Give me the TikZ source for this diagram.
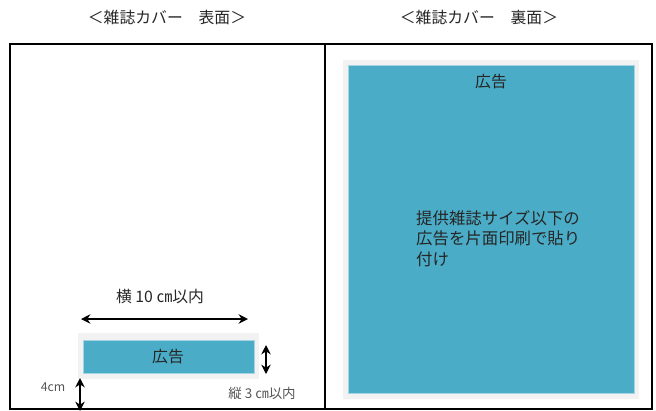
\documentclass[tikz,border=0pt]{standalone}
\usepackage{fontspec}
\setmainfont{Noto Sans CJK JP}
\usetikzlibrary{arrows.meta}
\definecolor{adblue}{HTML}{4AACC6}
\definecolor{adedge}{HTML}{A5D5E3}
\definecolor{margingray}{HTML}{F2F2F2}
\definecolor{textgray}{HTML}{262626}
\definecolor{notegray}{HTML}{555555}
\tikzset{
  admargin/.style={fill=margingray},
  adarea/.style={draw=adedge, fill=adblue, line width=0.6pt},
  dimarrow/.style={{Stealth[length=8pt,width=8pt]}-{Stealth[length=8pt,width=8pt]}, line width=1.6pt},
  title/.style={font=\fontsize{13.5}{16}\selectfont, text=textgray},
  adtext/.style={font=\fontsize{13.5}{16}\selectfont, text=textgray},
  note/.style={font=\fontsize{10.5}{12}\selectfont, text=notegray}
}
\begin{document}
\begin{tikzpicture}[x=0.03cm, y=-0.03cm, every node/.style={inner sep=0pt}]
  \useasboundingbox (0,0) rectangle (656,410);

  % titles
  \node[title] at (167,17) (fronttitle) {＜雑誌カバー　表面＞};
  \node[title] at (479,17) (backtitle) {＜雑誌カバー　裏面＞};

  % cover frame
  \draw[line width=1.5pt] (10,409) rectangle (652,44);
  \draw[line width=1.5pt] (325,44) -- (325,409);

  % front: small ad
  \fill[admargin] (78,333) rectangle (259,379);
  \draw[adarea] (83,340) rectangle (254,373);
  \node[adtext] at (168,357) (frontad) {広告};

  \coordinate (wl) at (81,319);
  \coordinate (wr) at (248,319);
  \draw[dimarrow] (wl) -- (wr);
  \node[adtext] at (160,297) (widthlabel) {横 10 ㎝以内};

  \coordinate (ht) at (266,345);
  \coordinate (hb) at (266,374);
  \draw[dimarrow] (ht) -- (hb);
  \node[note, font=\fontsize{11.5}{13}\selectfont] at (262,393) (heightlabel) {縦 3 ㎝以内};

  \coordinate (bt) at (80,378);
  \coordinate (bb) at (80,411);
  \draw[dimarrow] (bt) -- (bb);
  \node[note] at (53,387) (bottomlabel) {4cm};

  % back: full ad
  \fill[admargin] (343,60) rectangle (639,399);
  \draw[adarea] (348,65) rectangle (634,393);
  \node[adtext] at (491,82) (backad) {広告};
  \node[adtext, anchor=north west, align=left, font=\fontsize{14}{17.5}\selectfont] at (416,210) (backnote)
    {提供雑誌サイズ以下の\\広告を片面印刷で貼り\\付け};
\end{tikzpicture}
\end{document}
